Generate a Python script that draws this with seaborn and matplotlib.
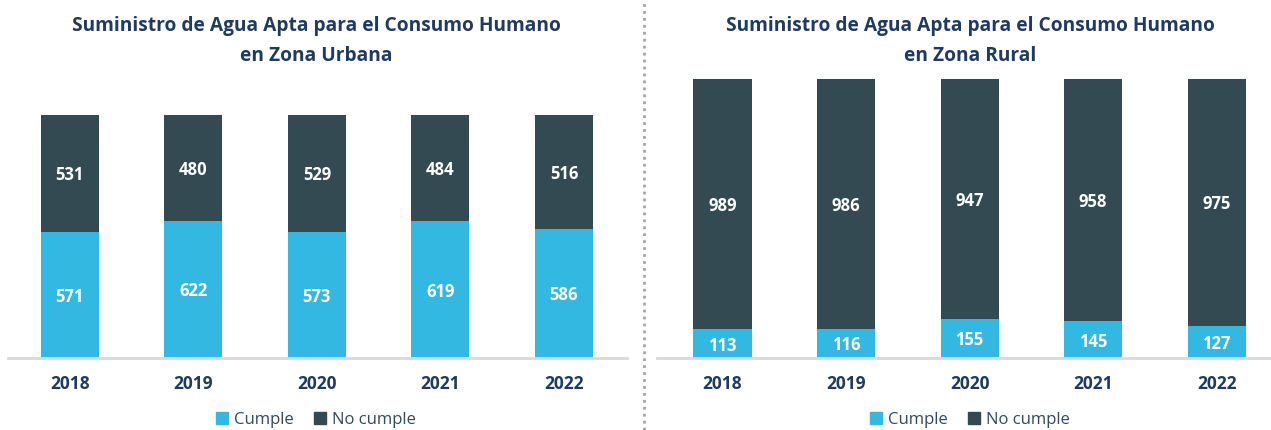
import seaborn as sns
import matplotlib.pyplot as plt
import pandas as pd

years = ['2018', '2019', '2020', '2021', '2022']
urb_cumple = [571, 622, 573, 619, 586]
urb_no_cumple = [531, 480, 529, 484, 516]
rur_cumple = [113, 116, 155, 145, 127]
rur_no_cumple = [989, 986, 947, 958, 975]

c_cumple = '#33B9E1'
c_no = '#344A53'
c_title = '#1F3B5E'

sns.set_style('white')
plt.rcParams['font.family'] = ['Open Sans', 'DejaVu Sans']

fig = plt.figure(figsize=(12.71, 4.30), dpi=100)
W, H = 1271, 430


def panel(left, right, xlim, ylim, cumple, no_cumple, title, cx):
    ax = fig.add_axes([left / W, (H - 358) / H, (right - left) / W, 283 / H])
    df = pd.DataFrame({'year': years, 'cumple': cumple, 'no': no_cumple})
    df['total'] = df['cumple'] + df['no']
    sns.barplot(data=df, x='year', y='total', color=c_no, width=0.47, ax=ax,
                saturation=1, edgecolor='none')
    sns.barplot(data=df, x='year', y='cumple', color=c_cumple, width=0.47, ax=ax,
                saturation=1, edgecolor='none')
    for i, r in df.iterrows():
        ax.text(i, r['cumple'] / 2, str(r['cumple']), ha='center', va='center_baseline',
                color='white', fontsize=12, fontweight='bold')
        ax.text(i, r['cumple'] + r['no'] / 2, str(r['no']), ha='center', va='center_baseline',
                color='white', fontsize=12, fontweight='bold')
    ax.set_xlim(*xlim)
    ax.set_ylim(0, ylim)
    ax.set_xlabel('')
    ax.set_ylabel('')
    ax.set_yticks([])
    for s in ['top', 'left', 'right']:
        ax.spines[s].set_visible(False)
    ax.spines['bottom'].set_color('#D9D9D9')
    ax.spines['bottom'].set_linewidth(2)
    ax.tick_params(axis='x', length=0, pad=12)
    for t in ax.get_xticklabels():
        t.set_fontsize(12.5)
        t.set_fontweight('bold')
        t.set_color(c_title)
    fig.text(cx / W, 1 - 26 / H, 'Suministro de Agua Apta para el Consumo Humano',
             ha='center', va='center', fontsize=13.8, fontweight='bold', color=c_title)
    fig.text(cx / W, 1 - 56 / H, title, ha='center', va='center',
             fontsize=13.8, fontweight='bold', color=c_title)
    handles = [plt.Rectangle((0, 0), 1, 1, color=c_cumple),
               plt.Rectangle((0, 0), 1, 1, color=c_no)]
    fig.legend(handles, ['Cumple', 'No cumple'], loc='center',
               bbox_to_anchor=(cx / W, 1 - 420 / H), ncol=2, frameon=False,
               fontsize=12, handlelength=0.7, handleheight=0.7, handletextpad=0.4,
               columnspacing=1.2, labelcolor='#2E4A62')
    return ax


panel(8, 627, (-0.5, 4.51), 1283, urb_cumple, urb_no_cumple, 'en Zona Urbana', 316)
panel(657, 1271, (-0.53, 4.44), 1118, rur_cumple, rur_no_cumple, 'en Zona Rural', 970)

fig.add_artist(plt.Line2D([644 / W, 644 / W], [0, 1], color='#A6A6A6',
                          linestyle=(0, (1, 1.5)), linewidth=2))

fig.savefig('out.png', dpi=100)
